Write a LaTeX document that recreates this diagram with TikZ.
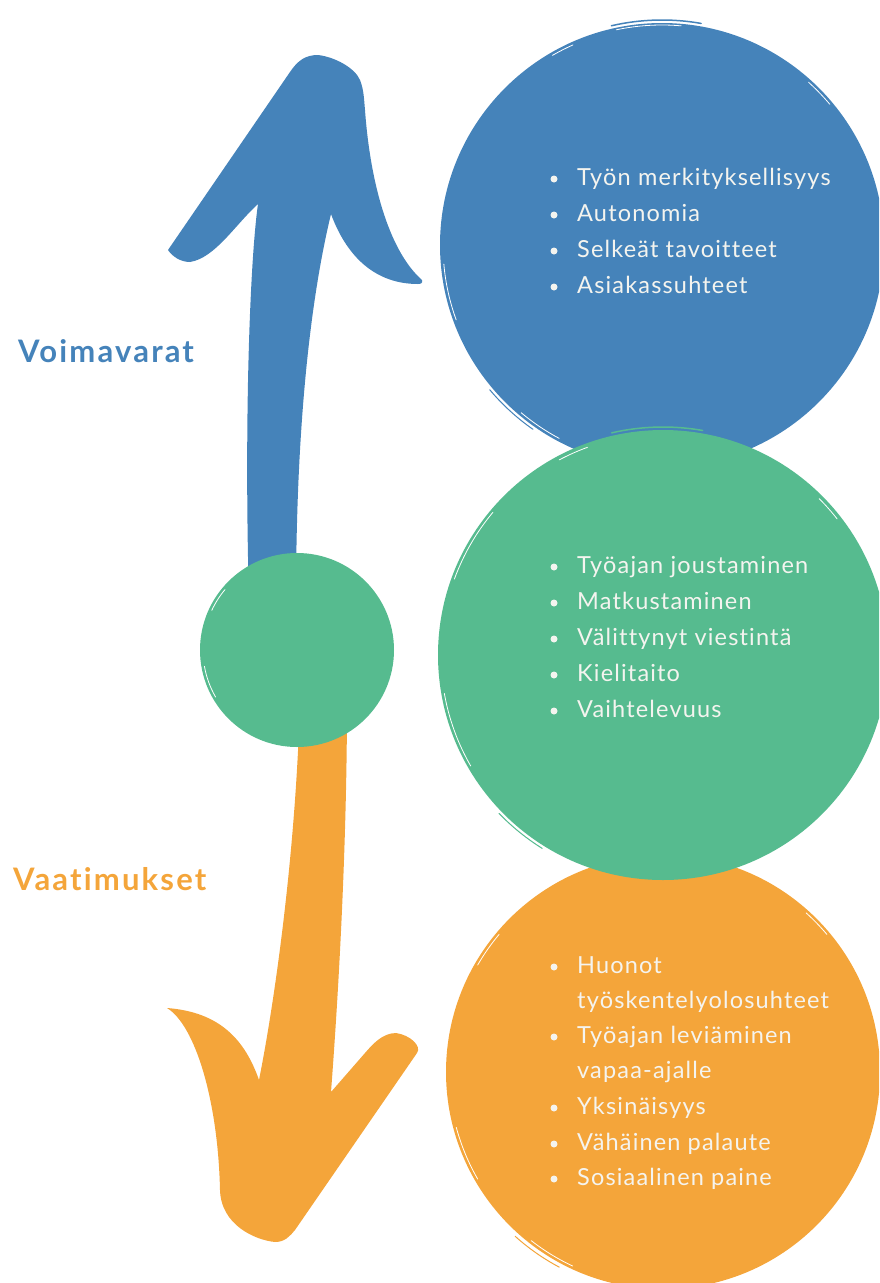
\documentclass[tikz,border=0pt]{standalone}
\usepackage{fontspec}
\setmainfont{Lato}
\newfontfamily\itemfont[LetterSpace=5,Ligatures=NoCommon]{Lato}
\newfontfamily\labelfont[LetterSpace=7,Ligatures=NoCommon]{Lato}
\definecolor{resblue}{HTML}{4583BA}
\definecolor{resgreen}{HTML}{56BB8F}
\definecolor{resorange}{HTML}{F4A53A}
\definecolor{itemtext}{HTML}{F4F4EF}
\begin{document}
\begin{tikzpicture}[x=1pt,y=-1pt,
  itemline/.style={anchor=base west,inner sep=0pt,text=itemtext,font=\itemfont\fontsize{23.5}{28}\selectfont},
  dot/.style={circle,fill=itemtext,inner sep=0pt,minimum size=7pt},
  sidelabel/.style={anchor=base west,inner sep=0pt,font=\labelfont\fontsize{31}{36}\selectfont\bfseries},
  streak/.style={white,line width=0.8pt,line cap=round}]
\useasboundingbox (0,0) rectangle (879,1283);
\clip (0,0) rectangle (879,1283);

% upward arrow (resources)
\fill[resblue] (249,600) .. controls (244,420) and (250,260) .. (258,204)
  .. controls (235,225) and (215,258) .. (190,262)
  .. controls (180,262) and (172,256) .. (168,250)
  -- (290,72) .. controls (298,60) and (306,55) .. (318,55)
  .. controls (335,57) and (355,68) .. (360,80)
  .. controls (364,90) and (364,100) .. (365,110)
  .. controls (370,180) and (388,250) .. (422,280)
  .. controls (423,283) and (421,284) .. (418,284)
  .. controls (378,284) and (348,260) .. (331,214)
  .. controls (315,280) and (296,400) .. (296,600) -- cycle;

% downward arrow (demands)
\fill[resorange] (300,700) .. controls (296,850) and (275,1000) .. (259,1080)
  .. controls (245,1040) and (220,1012) .. (167,1008)
  .. controls (195,1025) and (218,1100) .. (220,1190)
  .. controls (221,1225) and (255,1240) .. (275,1242)
  .. controls (285,1242) and (290,1236) .. (295,1230)
  -- (417,1053) .. controls (422,1046) and (410,1035) .. (396,1033)
  .. controls (382,1033) and (372,1045) .. (365,1053)
  -- (331,1092) .. controls (338,1000) and (347,850) .. (347,700) -- cycle;

% big circles
\fill[resblue] (662,245) circle[radius=222];
\fill[resorange] (663,1072) circle[radius=217];
\fill[resgreen] (663,655) circle[radius=225];
% junction circle
\fill[resgreen] (297,650) circle[radius=97];

% brush-stroke streaks along the circle rims
\draw[resblue,line width=1.5pt,line cap=round] (662,245) ++(-103:225) arc[start angle=-103,end angle=-80,radius=225];
\draw[streak] (662,245) ++(-102:220) arc[start angle=-102,end angle=-85,radius=220];
\draw[streak] (662,245) ++(-120:219) arc[start angle=-120,end angle=-114,radius=219];
\draw[streak] (662,245) ++(-48:219) arc[start angle=-48,end angle=-40,radius=219];
\draw[streak] (662,245) ++(160:219) arc[start angle=160,end angle=175,radius=219];
\draw[streak] (662,245) ++(118:219) arc[start angle=118,end angle=130,radius=219];
\draw[resblue,line width=1pt,line cap=round] (662,245) ++(125:225) arc[start angle=125,end angle=140,radius=225];
\draw[resgreen,line width=1.5pt,line cap=round] (663,655) ++(-103:228) arc[start angle=-103,end angle=-80,radius=228];
\draw[streak] (663,655) ++(-118:221) arc[start angle=-118,end angle=-110,radius=221];
\draw[streak] (663,655) ++(-45:221) arc[start angle=-45,end angle=-38,radius=221];
\draw[streak] (663,655) ++(-160:222) arc[start angle=-160,end angle=-140,radius=222];
\draw[streak] (663,655) ++(150:222) arc[start angle=150,end angle=170,radius=222];
\draw[resgreen,line width=1pt,line cap=round] (663,655) ++(122:228) arc[start angle=122,end angle=136,radius=228];
\draw[streak] (663,1072) ++(-48:214) arc[start angle=-48,end angle=-40,radius=214];
\draw[streak] (663,1072) ++(-150:214) arc[start angle=-150,end angle=-140,radius=214];
\draw[streak] (663,1072) ++(150:214) arc[start angle=150,end angle=165,radius=214];
\draw[streak] (663,1072) ++(115:214) arc[start angle=115,end angle=128,radius=214];
\draw[resorange,line width=1pt,line cap=round] (663,1072) ++(118:221) arc[start angle=118,end angle=132,radius=221];
\draw[streak] (297,650) ++(150:94) arc[start angle=150,end angle=170,radius=94];
\draw[streak] (297,650) ++(-155:94) arc[start angle=-155,end angle=-140,radius=94];

% side labels
\node[sidelabel,text=resblue] (lres) at (18,362) {Voimavarat};
\node[sidelabel,text=resorange] (ldem) at (13,890) {Vaatimukset};

% resource items
\foreach \t [count=\i] in {Työn merkityksellisyys,Autonomia,Selkeät tavoitteet,Asiakassuhteet}{
  \node[itemline] (r\i) at (577,{185+36*(\i-1)}) {\t};
  \node[dot] (rd\i) at (554,{179+36*(\i-1)}) {};
}
% job-feature items
\foreach \t [count=\i] in {Työajan joustaminen,Matkustaminen,Välittynyt viestintä,Kielitaito,Vaihtelevuus}{
  \node[itemline] (g\i) at (577,{573+36*(\i-1)}) {\t};
  \node[dot] (gd\i) at (554,{567+36*(\i-1)}) {};
}
% demand items
\node[itemline] (o1) at (577,973) {Huonot};
\node[itemline] (o2) at (577,1008) {työskentelyolosuhteet};
\node[itemline] (o3) at (577,1043) {Työajan leviäminen};
\node[itemline] (o4) at (577,1078) {vapaa-ajalle};
\node[itemline] (o5) at (577,1114) {Yksinäisyys};
\node[itemline] (o6) at (577,1150) {Vähäinen palaute};
\node[itemline] (o7) at (577,1185) {Sosiaalinen paine};
\foreach \y/\n in {967/1,1037/3,1108/5,1144/6,1179/7}{
  \node[dot] (od\n) at (554,\y) {};
}
\end{tikzpicture}
\end{document}
